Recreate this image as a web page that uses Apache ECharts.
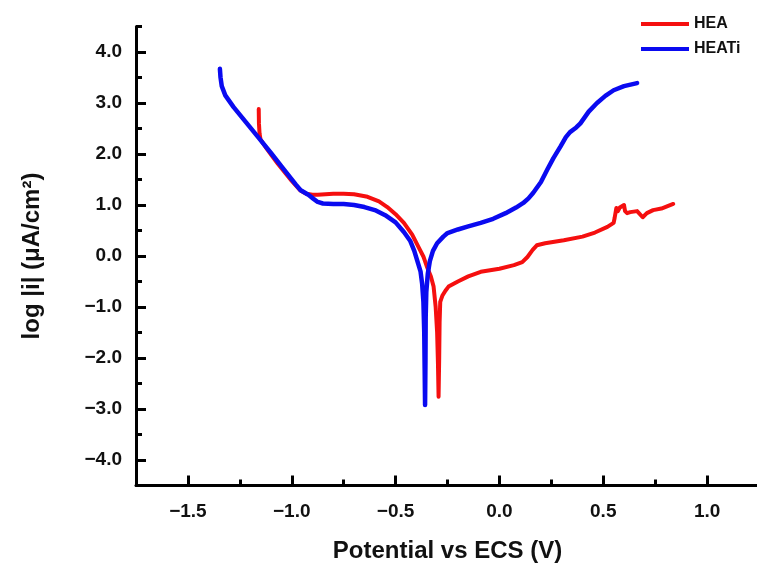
<!DOCTYPE html>
<html>
<head>
<meta charset="utf-8">
<script src="https://cdn.jsdelivr.net/npm/echarts@6/dist/echarts.min.js"></script>
<style>
  html, body { margin: 0; padding: 0; background: #fff; }
  #chart { width: 757px; height: 563px; }
</style>
</head>
<body>
<div id="chart"></div>
<script>
// Tafel polarization curves: potential (V vs ECS) against log current density
const heaPotential = [
  -1.159, -1.158, -1.155, -1.150, -1.120, -1.100, -1.067, -1.000, -0.960, -0.930,
  -0.900, -0.875, -0.800, -0.750, -0.700, -0.635, -0.580, -0.540, -0.500, -0.460,
  -0.420, -0.390, -0.365, -0.350, -0.330, -0.317, -0.307, -0.300, -0.296, -0.293,
  -0.290, -0.288, -0.285, -0.275, -0.260, -0.245, -0.200, -0.150, -0.090, 0.000,
  0.070, 0.110, 0.135, 0.160, 0.180, 0.220, 0.310, 0.400, 0.460, 0.520,
  0.550, 0.555, 0.563, 0.570, 0.580, 0.600, 0.605, 0.615, 0.630, 0.663,
  0.690, 0.710, 0.740, 0.780, 0.837
];
const heaLogI = [
  2.88, 2.60, 2.40, 2.28, 2.10, 1.99, 1.81, 1.47, 1.29, 1.22,
  1.20, 1.20, 1.22, 1.22, 1.21, 1.16, 1.07, 0.96, 0.82, 0.65,
  0.42, 0.18, -0.02, -0.20, -0.40, -0.60, -1.00, -1.50, -2.10, -2.76,
  -2.00, -1.30, -0.90, -0.78, -0.68, -0.60, -0.50, -0.40, -0.31, -0.25,
  -0.18, -0.12, -0.02, 0.12, 0.21, 0.25, 0.31, 0.38, 0.46, 0.57,
  0.65, 0.75, 0.94, 0.88, 0.95, 1.00, 0.88, 0.84, 0.86, 0.88,
  0.76, 0.84, 0.90, 0.93, 1.02
];
const heatiPotential = [
  -1.346, -1.343, -1.337, -1.320, -1.280, -1.220, -1.160, -1.100, -1.040, -0.980,
  -0.957, -0.920, -0.895, -0.875, -0.850, -0.800, -0.750, -0.700, -0.650, -0.600,
  -0.550, -0.500, -0.460, -0.430, -0.410, -0.395, -0.380, -0.372, -0.366, -0.362,
  -0.360, -0.358, -0.356, -0.355, -0.352, -0.345, -0.335, -0.320, -0.300, -0.270,
  -0.250, -0.200, -0.150, -0.090, -0.030, 0.030, 0.080, 0.115, 0.140, 0.163,
  0.200, 0.230, 0.260, 0.293, 0.320, 0.340, 0.370, 0.390, 0.430, 0.470,
  0.510, 0.550, 0.600, 0.663
];
const heatiLogI = [
  3.67, 3.50, 3.33, 3.15, 2.92, 2.62, 2.32, 2.02, 1.71, 1.40,
  1.29, 1.20, 1.12, 1.06, 1.03, 1.02, 1.02, 1.00, 0.96, 0.90,
  0.80, 0.66, 0.47, 0.30, 0.10, -0.10, -0.30, -0.55, -0.90, -1.50,
  -2.20, -2.92, -2.00, -1.20, -0.70, -0.35, -0.10, 0.10, 0.25, 0.38,
  0.45, 0.52, 0.58, 0.65, 0.73, 0.84, 0.95, 1.04, 1.13, 1.24,
  1.45, 1.69, 1.92, 2.14, 2.33, 2.43, 2.52, 2.60, 2.83, 3.00,
  3.14, 3.25, 3.33, 3.39
];

const xMajorTicks = [-1.5, -1.0, -0.5, 0.0, 0.5, 1.0];
const xMinorTicks = [-1.25, -0.75, -0.25, 0.25, 0.75];
const yMajorTicks = [-4, -3, -2, -1, 0, 1, 2, 3, 4];
const yMinorTicks = [-3.5, -2.5, -1.5, -0.5, 0.5, 1.5, 2.5, 3.5, 4.5];

const zip = (xs, ys) => xs.map((x, i) => [x, ys[i]]);
const fmt = v => (v < 0 ? '\u2212' + Math.abs(v).toFixed(1) : v.toFixed(1));
const FONT = "'Liberation Sans', Arial, sans-serif";

const chart = echarts.init(document.getElementById('chart'), null, { renderer: 'canvas' });

const xBase = { type: 'value', min: -1.75, max: 1.25, splitLine: { show: false } };
const yBase = { type: 'value', min: -4.5, max: 4.5, splitLine: { show: false } };

chart.setOption({
  animation: false,
  backgroundColor: '#ffffff',
  grid: { left: 136, right: -2, top: 26.5, bottom: 77.5, containLabel: false, outerBoundsMode: 'none' },
  legend: {
    orient: 'vertical',
    left: 636,
    top: 11,
    itemWidth: 48,
    itemHeight: 4,
    itemGap: 9,
    icon: 'rect',
    textStyle: { fontFamily: FONT, fontWeight: 'bold', fontSize: 16, color: '#111' },
    data: ['HEA', 'HEATi']
  },
  xAxis: [
    Object.assign({}, xBase, {
      position: 'bottom',
      name: 'Potential vs ECS (V)',
      nameLocation: 'middle',
      nameGap: 54,
      nameTextStyle: { fontFamily: FONT, fontWeight: 'bold', fontSize: 24, color: '#111' },
      axisLine: { show: true, onZero: false, lineStyle: { color: '#000', width: 3 } },
      axisTick: { show: true, inside: true, length: 10, customValues: xMajorTicks, lineStyle: { color: '#000', width: 3 } },
      axisLabel: { show: true, customValues: xMajorTicks, formatter: fmt, margin: 17,
        fontFamily: FONT, fontWeight: 'bold', fontSize: 19, color: '#111' }
    }),
    Object.assign({}, xBase, {
      position: 'bottom',
      axisLine: { show: false, onZero: false },
      axisTick: { show: true, inside: true, length: 6, customValues: xMinorTicks, lineStyle: { color: '#000', width: 3 } },
      axisLabel: { show: false }
    })
  ],
  yAxis: [
    Object.assign({}, yBase, {
      position: 'left',
      name: 'log |i| (\u03bcA/cm\u00b2)',
      nameLocation: 'middle',
      nameGap: 92,
      nameTextStyle: { fontFamily: FONT, fontWeight: 'bold', fontSize: 24, color: '#111' },
      axisLine: { show: true, onZero: false, lineStyle: { color: '#000', width: 3 } },
      axisTick: { show: true, inside: true, length: 10, customValues: yMajorTicks, lineStyle: { color: '#000', width: 3 } },
      axisLabel: { show: true, customValues: yMajorTicks, formatter: fmt, margin: 14,
        fontFamily: FONT, fontWeight: 'bold', fontSize: 19, color: '#111' }
    }),
    Object.assign({}, yBase, {
      position: 'left',
      axisLine: { show: false, onZero: false },
      axisTick: { show: true, inside: true, length: 6, customValues: yMinorTicks, lineStyle: { color: '#000', width: 3 } },
      axisLabel: { show: false }
    })
  ],
  series: [
    {
      name: 'HEA',
      type: 'line',
      data: zip(heaPotential, heaLogI),
      showSymbol: false,
      symbol: 'none',
      color: '#f50f0f',
      lineStyle: { width: 4, color: '#f50f0f', join: 'round', cap: 'round' },
      z: 2
    },
    {
      name: 'HEATi',
      type: 'line',
      data: zip(heatiPotential, heatiLogI),
      showSymbol: false,
      symbol: 'none',
      color: '#0a0af0',
      lineStyle: { width: 4.5, color: '#0a0af0', join: 'round', cap: 'round' },
      z: 3
    }
  ]
});
</script>
</body>
</html>
